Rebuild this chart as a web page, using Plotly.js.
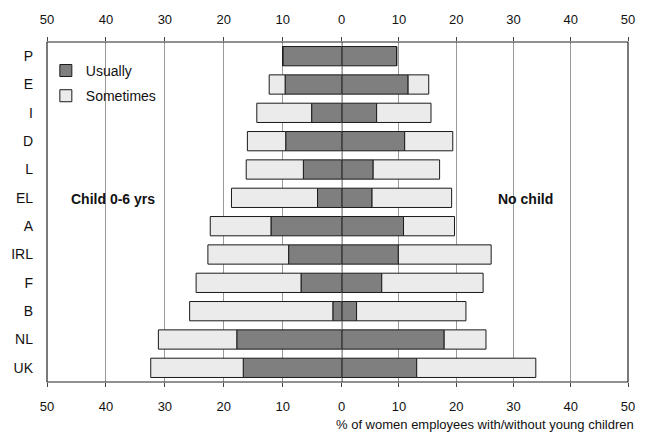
<!DOCTYPE html>
<html>
<head>
<meta charset="utf-8">
<script src="https://cdn.plot.ly/plotly-3.0.1.min.js"></script>
<style>html,body{margin:0;padding:0;background:#fff;}#chart{width:654px;height:434px;}</style>
</head>
<body>
<div id="chart"></div>
<script>
// Countries, top to bottom
const countries = ["P","E","I","D","L","EL","A","IRL","F","B","NL","UK"];
// Women employees with child 0-6 yrs (left side), %
const childUsually   = [10.0, 9.6, 5.1, 9.5, 6.5, 4.1, 12.0, 9.0, 6.9, 1.5, 17.8, 16.7];
const childSometimes = [0.0, 2.7, 9.3, 6.5, 9.7, 14.6, 10.3, 13.7, 17.8, 24.3, 13.3, 15.7];
// Women employees with no child (right side), %
const noChildUsually   = [9.6, 11.6, 6.1, 11.0, 5.5, 5.3, 10.8, 9.9, 7.0, 2.6, 17.9, 13.1];
const noChildSometimes = [0.0, 3.6, 9.5, 8.4, 11.6, 13.9, 8.9, 16.2, 17.7, 19.1, 7.3, 20.8];
const leftTicks = [50, 40, 30, 20, 10, 0];
const rightTicks = [10, 20, 30, 40, 50];

const cUsually = '#7f7f7f';
const cSometimes = '#ebebeb';
const outline = {color: '#1a1a1a', width: 1};
const bw = 0.68;

const traces = [
  {type: 'bar', orientation: 'h', name: 'Usually', y: countries, x: childUsually, base: 0,
   xaxis: 'x', yaxis: 'y', width: bw, marker: {color: cUsually, line: outline}, legendgroup: 'u', showlegend: true, hoverinfo: 'skip'},
  {type: 'bar', orientation: 'h', name: 'Sometimes', y: countries, x: childSometimes, base: childUsually,
   xaxis: 'x', yaxis: 'y', width: bw, marker: {color: cSometimes, line: outline}, legendgroup: 's', showlegend: true, hoverinfo: 'skip'},
  {type: 'bar', orientation: 'h', name: 'Usually', y: countries, x: noChildUsually, base: 0,
   xaxis: 'x2', yaxis: 'y', width: bw, marker: {color: cUsually, line: outline}, legendgroup: 'u', showlegend: false, hoverinfo: 'skip'},
  {type: 'bar', orientation: 'h', name: 'Sometimes', y: countries, x: noChildSometimes, base: noChildUsually,
   xaxis: 'x2', yaxis: 'y', width: bw, marker: {color: cSometimes, line: outline}, legendgroup: 's', showlegend: false, hoverinfo: 'skip'},
  // invisible helpers so the top tick axes are drawn
  {type: 'scatter', mode: 'markers', x: [null], y: [countries[0]], xaxis: 'x3', yaxis: 'y', showlegend: false, hoverinfo: 'skip', marker: {opacity: 0}},
  {type: 'scatter', mode: 'markers', x: [null], y: [countries[0]], xaxis: 'x4', yaxis: 'y', showlegend: false, hoverinfo: 'skip', marker: {opacity: 0}}
];

const font = {family: 'Liberation Sans, Arial, sans-serif', size: 13, color: '#111'};
const split = 0.5072;
const axBase = {
  showgrid: true, gridcolor: '#9a9a9a', gridwidth: 1, zeroline: false,
  showline: false, ticks: 'outside', ticklen: 4, tickcolor: '#444',
  tickfont: font, ticklabelstandoff: 8, fixedrange: true
};

const layout = {
  width: 654, height: 434,
  margin: {l: 47, r: 26, t: 42, b: 52},
  paper_bgcolor: '#fff', plot_bgcolor: '#fff',
  font: font,
  barmode: 'overlay',
  showlegend: true,
  legend: {x: -0.002, y: 0.962, xanchor: 'left', yanchor: 'top', bgcolor: 'rgba(0,0,0,0)',
           font: {family: 'Liberation Sans, Arial, sans-serif', size: 14, color: '#111'},
           itemwidth: 30, tracegroupgap: 4},
  xaxis: Object.assign({}, axBase, {domain: [0, split], range: [50, 0], tickvals: leftTicks, anchor: 'y'}),
  xaxis2: Object.assign({}, axBase, {domain: [split, 1], range: [0, 50], tickvals: rightTicks, anchor: 'y'}),
  xaxis3: Object.assign({}, axBase, {overlaying: 'x', side: 'top', range: [50, 0], tickvals: leftTicks, showgrid: false, anchor: 'y'}),
  xaxis4: Object.assign({}, axBase, {overlaying: 'x2', side: 'top', range: [0, 50], tickvals: rightTicks, showgrid: false, anchor: 'y'}),
  yaxis: {type: 'category', categoryorder: 'array', categoryarray: countries,
          range: [countries.length - 0.5, -0.5], autorange: false,
          showgrid: false, zeroline: false, showline: false, ticks: '',
          tickfont: {family: 'Liberation Sans, Arial, sans-serif', size: 14, color: '#111'},
          ticklabelstandoff: 13, fixedrange: true},
  shapes: [
    {type: 'rect', xref: 'paper', yref: 'paper', x0: 0, x1: 1, y0: 0, y1: 1, line: {color: '#222', width: 1.2}},
    {type: 'line', xref: 'x2', yref: 'paper', x0: 0, x1: 0, y0: 0, y1: 1, line: {color: '#222', width: 1.5}, layer: 'above'}
  ],
  annotations: [
    {text: '<b>Child 0-6 yrs</b>', xref: 'paper', yref: 'paper', x: 0.1136, y: 0.538, xanchor: 'center', yanchor: 'middle', showarrow: false,
     font: {family: 'Liberation Sans, Arial, sans-serif', size: 14, color: '#111'}},
    {text: '<b>No child</b>', xref: 'paper', yref: 'paper', x: 0.823, y: 0.538, xanchor: 'center', yanchor: 'middle', showarrow: false,
     font: {family: 'Liberation Sans, Arial, sans-serif', size: 14, color: '#111'}},
    {text: '% of women employees with/without young children', xref: 'paper', yref: 'paper',
     x: 1.014, y: -0.126, xanchor: 'right', yanchor: 'middle', showarrow: false,
     font: {family: 'Liberation Sans, Arial, sans-serif', size: 13, color: '#111'}}
  ]
};

Plotly.newPlot('chart', traces, layout, {displayModeBar: false, staticPlot: true});
</script>
</body>
</html>
